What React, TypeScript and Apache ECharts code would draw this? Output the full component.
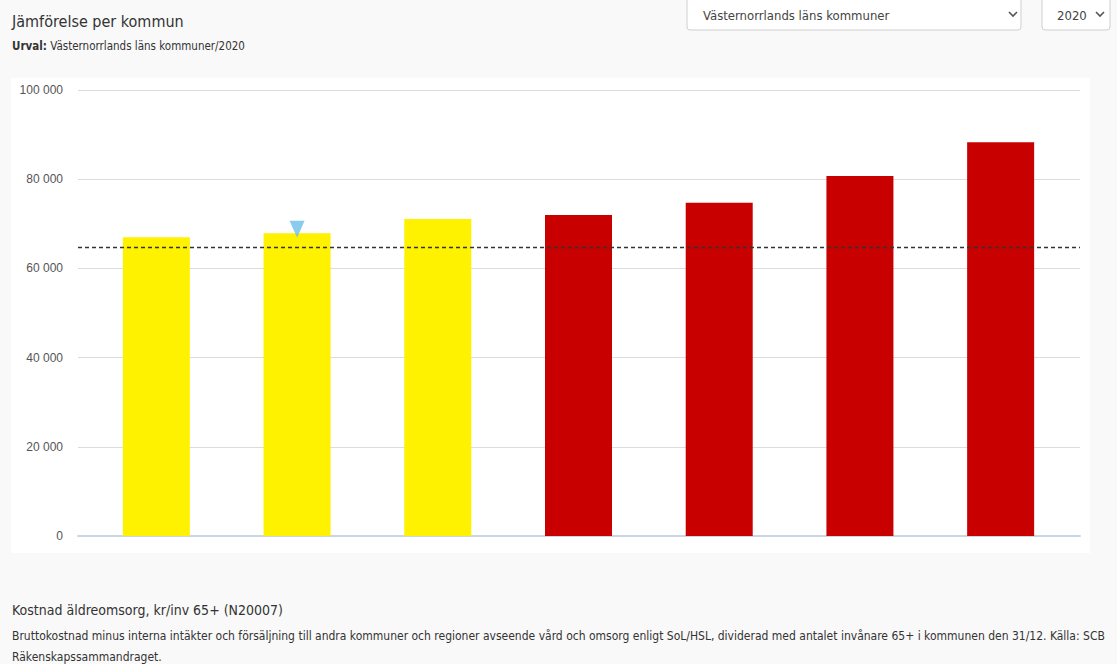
import React, { useEffect, useRef } from "react";
import * as echarts from "echarts";

const categories = ["Kommun 1", "Kommun 2", "Kommun 3", "Kommun 4", "Kommun 5", "Kommun 6", "Kommun 7"];
const values = [67000, 67900, 71100, 72000, 74700, 80700, 88300];
const barColors = ["#fff200", "#fff200", "#fff200", "#c80000", "#c80000", "#c80000", "#c80000"];
const referenceValue = 64700;
const markerIndex = 1;
const yTicks = [0, 20000, 40000, 60000, 80000, 100000];

const FONT = "'Liberation Sans Narrow', 'DejaVu Sans Condensed', sans-serif";

function fmt(v: number) {
  return String(v).replace(/\B(?=(\d{3})+(?!\d))/g, " ");
}

export default function App() {
  const ref = useRef<HTMLDivElement>(null);
  useEffect(() => {
    document.body.style.margin = "0";
    const chart = echarts.init(ref.current!, null, { renderer: "svg" });
    const chevron = (x: number, y: number) => ({
      type: "polyline",
      shape: { points: [[x - 4, y - 2], [x, y + 2], [x + 4, y - 2]] },
      style: { stroke: "#555", lineWidth: 1.6, fill: "none" },
    });
    chart.setOption({
      animation: false,
      backgroundColor: "#f9f9f9",
      graphic: [
        { type: "rect", z: -10, shape: { x: 11, y: 78, width: 1079, height: 475 }, style: { fill: "#ffffff" } },
        { type: "rect", shape: { x: 687, y: -4, width: 334, height: 34, r: 3 }, style: { fill: "#fff", stroke: "#cfcfcf", lineWidth: 1 } },
        { type: "text", x: 703, y: 15, style: { text: "Västernorrlands läns kommuner", font: `13px ${FONT}`, fill: "#444", verticalAlign: "middle" } },
        chevron(1013, 14),
        { type: "rect", shape: { x: 1042, y: -4, width: 68, height: 34, r: 3 }, style: { fill: "#fff", stroke: "#cfcfcf", lineWidth: 1 } },
        { type: "text", x: 1057, y: 15, style: { text: "2020", font: `13px ${FONT}`, fill: "#444", verticalAlign: "middle" } },
        chevron(1100, 14),
        { type: "text", x: 12, y: 21, style: { text: "Jämförelse per kommun", font: `16px ${FONT}`, fill: "#333", verticalAlign: "middle" } },
        {
          type: "text", x: 12, y: 46,
          style: {
            text: "{b|Urval:} {n|Västernorrlands läns kommuner/2020}",
            verticalAlign: "middle",
            rich: {
              b: { font: `bold 11.5px ${FONT}`, fill: "#333" },
              n: { font: `11.5px ${FONT}`, fill: "#333" },
            },
          },
        },
        { type: "text", x: 12, y: 610, style: { text: "Kostnad äldreomsorg, kr/inv 65+ (N20007)", font: `14px ${FONT}`, fill: "#333", verticalAlign: "middle" } },
        { type: "text", x: 12, y: 636, style: { text: "Bruttokostnad minus interna intäkter och försäljning till andra kommuner och regioner avseende vård och omsorg enligt SoL/HSL, dividerad med antalet invånare 65+ i kommunen den 31/12. Källa: SCB", font: `12px ${FONT}`, fill: "#333", verticalAlign: "middle" } },
        { type: "text", x: 12, y: 657, style: { text: "Räkenskapssammandraget.", font: `12px ${FONT}`, fill: "#333", verticalAlign: "middle" } },
      ],
      grid: [
        { left: 86, right: 46, top: 90, bottom: 128 },
        { left: 78, right: 37, top: 90, bottom: 128 },
      ],
      xAxis: [
        { type: "category", gridIndex: 0, data: categories, axisLine: { show: false }, axisTick: { show: false }, axisLabel: { show: false } },
        { type: "value", gridIndex: 1, min: 0, max: 1, show: true, axisLine: { show: true, lineStyle: { color: "#c9d6e6", width: 2 } }, axisTick: { show: false }, axisLabel: { show: false }, splitLine: { show: false } },
      ],
      yAxis: [
        { type: "value", gridIndex: 0, min: 0, max: 100000, interval: 20000, show: false, splitLine: { show: false } },
        {
          type: "value", gridIndex: 1, min: yTicks[0], max: yTicks[yTicks.length - 1], interval: yTicks[1] - yTicks[0],
          axisLine: { show: false }, axisTick: { show: false },
          axisLabel: { formatter: (v: number) => fmt(v), color: "#555", fontSize: 12, fontFamily: "'Liberation Sans', Arial, sans-serif", margin: 15 },
          splitLine: { lineStyle: { color: "#dcdcdc", width: 1 } },
        },
      ],
      series: [
        {
          type: "bar", xAxisIndex: 0, yAxisIndex: 0, barWidth: 67, z: 3,
          data: values.map((v, i) => ({ value: v, itemStyle: { color: barColors[i] } })),
        },
        {
          type: "line", xAxisIndex: 1, yAxisIndex: 1, symbol: "none", z: 5,
          data: [[0, referenceValue], [1, referenceValue]],
          lineStyle: { type: [4, 3], color: "#333", width: 1.4 },
        },
        {
          type: "scatter", xAxisIndex: 0, yAxisIndex: 0, z: 6,
          data: [[categories[markerIndex], values[markerIndex]]],
          symbol: "triangle", symbolRotate: 180, symbolSize: [15, 17], symbolOffset: [0, -4],
          itemStyle: { color: "#6cbfe8" },
        },
      ],
    });
    return () => chart.dispose();
  }, []);
  return <div ref={ref} style={{ width: 1117, height: 664 }} />;
}
